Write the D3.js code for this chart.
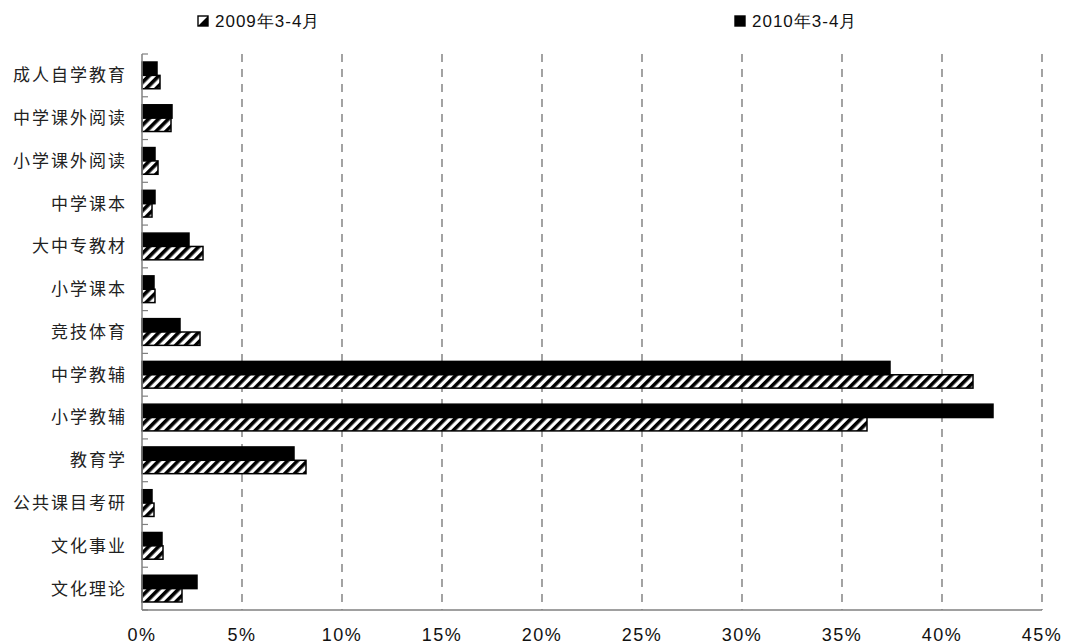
<!DOCTYPE html>
<html>
<head>
<meta charset="utf-8">
<script src="https://cdn.jsdelivr.net/npm/d3@7"></script>
<style>
  body { margin: 0; background: #fff; }
  text { font-family: "Liberation Sans", Arial, sans-serif; }
  .cat text { font-family: "Noto Sans CJK SC", sans-serif; }
</style>
</head>
<body>
<div id="chart"></div>
<script>
const categories = ["成人自学教育", "中学课外阅读", "小学课外阅读", "中学课本", "大中专教材", "小学课本",
  "竞技体育", "中学教辅", "小学教辅", "教育学", "公共课目考研", "文化事业", "文化理论"];
const seriesNames = ["2010年3-4月", "2009年3-4月"];
const values2010 = [0.75, 1.5, 0.65, 0.65, 2.35, 0.6, 1.9, 37.4, 42.55, 7.6, 0.5, 1.0, 2.75];
const values2009 = [0.9, 1.45, 0.8, 0.5, 3.05, 0.65, 2.9, 41.55, 36.25, 8.2, 0.6, 1.05, 2.0];
const xTicks = [0, 5, 10, 15, 20, 25, 30, 35, 40, 45];

const width = 1065, height = 644;
const margin = { top: 54, right: 23, bottom: 34, left: 142 };

const svg = d3.select("#chart").append("svg")
  .attr("width", width).attr("height", height);

const defs = svg.append("defs");
const hatch = defs.append("pattern")
  .attr("id", "hatch")
  .attr("patternUnits", "userSpaceOnUse")
  .attr("width", 7).attr("height", 7)
  .attr("patternTransform", "rotate(45)");
hatch.append("rect").attr("width", 7).attr("height", 7).attr("fill", "#fff");
hatch.append("rect").attr("width", 3.6).attr("height", 7).attr("fill", "#000");

const x = d3.scaleLinear()
  .domain([0, 45])
  .range([margin.left, width - margin.right]);

const y = d3.scaleBand()
  .domain(categories)
  .range([margin.top, height - margin.bottom]);

const inner = d3.scaleBand()
  .domain(seriesNames)
  .range([0, y.bandwidth()])
  .paddingOuter(0.6);

// dashed gridlines
svg.append("g")
  .selectAll("line")
  .data(xTicks.filter(d => d > 0))
  .enter()
  .append("line")
  .attr("x1", d => x(d)).attr("x2", d => x(d))
  .attr("y1", margin.top).attr("y2", height - margin.bottom)
  .attr("stroke", "#666")
  .attr("stroke-width", 1.2)
  .attr("stroke-dasharray", "8,7");

// bars
const rows = categories.map((c, i) => ({ cat: c, v: [values2010[i], values2009[i]] }));

const groups = svg.append("g")
  .selectAll("g")
  .data(rows)
  .enter()
  .append("g")
  .attr("transform", d => `translate(0, ${y(d.cat)})`);

groups.selectAll("rect")
  .data(d => d.v.map((v, j) => ({ s: seriesNames[j], v })))
  .enter()
  .append("rect")
  .attr("x", x(0))
  .attr("y", d => inner(d.s))
  .attr("width", d => x(d.v) - x(0))
  .attr("height", inner.bandwidth())
  .attr("fill", d => d.s === seriesNames[0] ? "#000" : "url(#hatch)")
  .attr("stroke", "#000")
  .attr("stroke-width", 1.5);

// y axis
const yAxis = svg.append("g")
  .attr("class", "cat")
  .attr("transform", `translate(${margin.left}, 0)`);

yAxis.append("line")
  .attr("x1", 0).attr("x2", 0)
  .attr("y1", margin.top).attr("y2", height - margin.bottom)
  .attr("stroke", "#808080").attr("stroke-width", 1.5);

yAxis.selectAll(".tk")
  .data(categories.concat([null]))
  .enter()
  .append("line")
  .attr("class", "tk")
  .attr("x1", 0).attr("x2", 6)
  .attr("y1", (d, i) => margin.top + i * y.step())
  .attr("y2", (d, i) => margin.top + i * y.step())
  .attr("stroke", "#808080").attr("stroke-width", 1.2);

yAxis.selectAll("text")
  .data(categories)
  .enter()
  .append("text")
  .attr("x", -15)
  .attr("y", d => y(d) + y.bandwidth() / 2)
  .attr("dy", "0.35em")
  .attr("text-anchor", "end")
  .attr("font-size", 17)
  .attr("letter-spacing", 2)
  .attr("fill", "#222")
  .text(d => d);

// x axis line
svg.append("line")
  .attr("x1", x(0)).attr("x2", x(45))
  .attr("y1", height - margin.bottom).attr("y2", height - margin.bottom)
  .attr("stroke", "#808080").attr("stroke-width", 1.5);

// x axis labels
svg.append("g")
  .selectAll("text")
  .data(xTicks)
  .enter()
  .append("text")
  .attr("x", d => x(d))
  .attr("y", 641)
  .attr("text-anchor", "middle")
  .attr("font-size", 18)
  .attr("letter-spacing", 1.5)
  .attr("fill", "#111")
  .text(d => d + "%");

// legend
const legendItems = [
  { name: seriesNames[1], hatched: true, x: 198 },
  { name: seriesNames[0], hatched: false, x: 735 }
];
const lg = svg.append("g")
  .selectAll("g")
  .data(legendItems)
  .enter()
  .append("g")
  .attr("transform", d => `translate(${d.x}, 16)`);

lg.append("rect")
  .attr("x", 0).attr("y", 0)
  .attr("width", 10).attr("height", 10)
  .attr("fill", d => d.hatched ? "#fff" : "#000")
  .attr("stroke", "#000").attr("stroke-width", 1.4);

lg.filter(d => d.hatched)
  .append("path")
  .attr("d", "M10,0L10,10L0,10Z")
  .attr("fill", "#000");

lg.append("text")
  .attr("x", 17).attr("y", 5)
  .attr("dy", "0.36em")
  .attr("font-size", 17)
  .attr("letter-spacing", 1)
  .attr("fill", "#111")
  .text(d => d.name);
</script>
</body>
</html>
